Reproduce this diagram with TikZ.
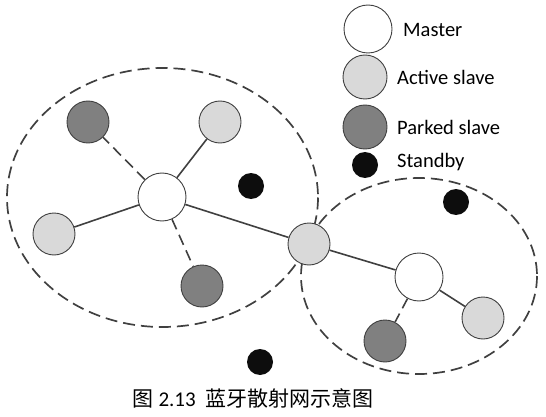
\documentclass[tikz,border=0pt]{standalone}
\usepackage{fontspec}
\setmainfont{Carlito}
\newfontfamily\cjk{Noto Sans CJK SC}
\usetikzlibrary{positioning}
\definecolor{linegray}{HTML}{404040}
\definecolor{activegray}{HTML}{D9D9D9}
\definecolor{parkedgray}{HTML}{808080}
\definecolor{standbyblack}{HTML}{0D0D0D}

\begin{document}
\begin{tikzpicture}[
    x=1pt, y=-1pt,
    dev/.style={circle, draw=linegray, line width=0.9pt, inner sep=0pt,
                minimum size=42pt, fill=#1},
    dev/.default=activegray,
    master/.style={dev=white, minimum size=48pt},
    parked/.style={dev=parkedgray},
    standby/.style={circle, fill=standbyblack, inner sep=0pt, minimum size=26pt},
    link/.style={draw=linegray, line width=1.6pt},
    parklink/.style={link, dash pattern=on 11pt off 6pt},
    zone/.style={draw=linegray, line width=1.7pt, dash pattern=on 12pt off 6pt},
    legtext/.style={anchor=west, font=\fontsize{20.5}{24}\selectfont, inner sep=0pt}
]
\useasboundingbox (0,0) rectangle (546,417);

% Piconets
\draw[zone] (162.5,197.5) ellipse [x radius=155.5, y radius=129.5];
\draw[zone] (419,276) ellipse [x radius=118, y radius=98];

% Left piconet
\node[master] (m1) at (162,197) {};
\node[parked] (p1) at (88,122) {};
\node[dev] (a1) at (220,122) {};
\node[dev] (a2) at (54,234) {};
\node[parked] (p2) at (202,286) {};

% Bridge and right piconet
\node[dev] (br) at (309,244) {};
\node[master] (m2) at (419,277) {};
\node[dev] (a3) at (483,318) {};
\node[parked] (p3) at (385,341) {};

% Standby units
\node[standby] (s1) at (251,186) {};
\node[standby] (s2) at (456,202) {};
\node[standby] (s3) at (260,362) {};

% Legend
\node[master] (lm) at (368,29) {};
\node[dev, minimum size=44pt] (la) at (365,77) {};
\node[parked, minimum size=44pt] (lp) at (365,127) {};
\node[standby] (ls) at (365,165) {};
\node[legtext] (tm) at (403,30) {Master};
\node[legtext] (ta) at (397,77) {Active slave};
\node[legtext] (tp) at (397,127) {Parked slave};
\node[legtext] (ts) at (397,162) {Standby};

% Caption
\node[font=\fontsize{21}{24}\selectfont] (cap) at (253,398)
    {{\cjk 图} 2.13\ \ {\cjk 蓝牙散射网示意图}};

% Links
\draw[parklink] (m1) -- (p1);
\draw[link] (m1) -- (a1);
\draw[link] (m1) -- (a2);
\draw[parklink] (m1) -- (p2);
\draw[link] (m1) -- (br);
\draw[link] (br) -- (m2);
\draw[link] (m2) -- (a3);
\draw[parklink] (m2) -- (p3);

\end{tikzpicture}
\end{document}
